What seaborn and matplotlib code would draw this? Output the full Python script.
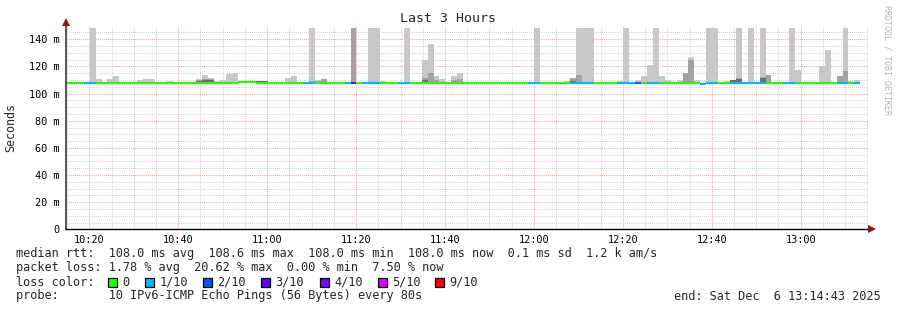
import numpy as np
import pandas as pd
import matplotlib
matplotlib.use("Agg")
import matplotlib.pyplot as plt
from matplotlib.patches import Rectangle
from matplotlib.ticker import FixedLocator, FuncFormatter
import seaborn as sns

# ---------------- data ----------------
N_STEPS = 134            # 80 s steps shown
START_MIN = 14.75        # first step start, minutes after 10:00
STEP_MIN = 80 / 60       # 80 s step

MEDIAN_BASE = 108.0
median_steps = [29, 30, 31, 107]
median_values = [108.6, 108.6, 108.6, 107.4]

loss_steps = [3, 4, 40, 41, 47, 48, 50, 51, 52, 56, 57, 78, 79, 85, 86, 87, 88,
              93, 94, 95, 96, 98, 99, 107, 108, 109, 112, 113, 114, 115, 116,
              117, 121, 122, 130, 131, 133]
loss_tenths = [1, 1, 1, 1, 1, 4, 1, 1, 1, 1, 1, 1, 1, 1, 1, 1, 1,
               1, 1, 1, 2, 1, 1, 1, 1, 1, 1, 1, 1, 1, 1,
               1, 1, 1, 1, 1, 1]

SMOKE_BASE = 107.8
smoke_steps = [4, 5, 7, 8, 12, 13, 14, 17, 22, 23, 24, 25, 26, 27, 28, 32, 33,
               37, 38, 41, 42, 43, 48, 51, 52, 53, 57, 60, 61, 62, 63, 65, 66,
               79, 84, 85, 86, 87, 88, 93, 94, 96, 97, 98, 99, 100, 101, 103,
               104, 105, 106, 108, 109, 111, 112, 113, 115, 117, 118, 122, 123,
               127, 128, 130, 131, 132, 133]
smoke_max = [148, 111, 111, 112.7, 109.7, 111, 111, 109.5, 111, 113.5, 111.8, 109.6, 110, 114.1, 115.4, 108.9, 108.9,
             111.7, 113.2, 148, 110, 111, 148, 148, 148, 109, 148, 124.4, 136.6, 112.7, 111, 113.2, 115.4,
             148, 109.5, 111.7, 148, 148, 148, 109, 148, 110, 113.2, 121.2, 148, 112.7, 110, 110,
             115.4, 127, 110, 148, 148, 109.5, 110, 148, 148, 148, 113.5, 148, 117.6,
             120, 132.2, 113.1, 148, 109.4, 109.8]
smoke_mid = [None, None, None, None, None, None, None, None, 110, 110.5, 110.5, None, None, None, None, 108.9, 108.9,
             None, None, 109.5, 109.5, 111, 148, None, None, None, None, 111.7, 115, 110, None, 110.2, 111,
             None, None, 111.7, 113.4, None, None, None, None, None, None, None, None, None, None, None,
             115.4, 124.4, None, None, None, None, 110, 111.7, None, 112.2, 113.5, None, None,
             None, None, 113.1, 116.8, None, None]
smoke_dark = [None, None, None, None, None, None, None, None, 109.5, 110, 109.8, None, None, None, None, 108.9, 108.9,
              None, None, None, None, None, None, None, None, None, None, 110, None, None, None, None, None,
              None, None, 109.5, None, None, None, None, None, None, None, None, None, None, None, None,
              None, None, None, None, None, None, 109.8, 110.5, None, 111.2, None, None, None,
              None, None, None, None, None, None]

y_ticks = [0, 20, 40, 60, 80, 100, 120, 140]
x_tick_min = [20, 40, 60, 80, 100, 120, 140, 160, 180]
x_tick_labels = ["10:20", "10:40", "11:00", "11:20", "11:40", "12:00", "12:20", "12:40", "13:00"]

loss_names = {0: "0", 1: "1/10", 2: "2/10", 3: "3/10", 4: "4/10", 5: "5/10", 9: "9/10"}
loss_colors = {"0": "#26ff00", "1/10": "#00b8ff", "2/10": "#0059ff", "3/10": "#5e00ff",
               "4/10": "#7e00ff", "5/10": "#dd00ff", "9/10": "#ff0000"}

stats_line1 = "median rtt:  108.0 ms avg  108.6 ms max  108.0 ms min  108.0 ms now  0.1 ms sd  1.2 k am/s"
stats_line2 = "packet loss: 1.78 % avg  20.62 % max  0.00 % min  7.50 % now"
probe_line = "probe:       10 IPv6-ICMP Echo Pings (56 Bytes) every 80s"
end_line = "end: Sat Dec  6 13:14:43 2025"

# ---------------- styling ----------------
sns.set_theme(style="white")
plt.rcParams["font.family"] = ["DejaVu Sans Mono", "DejaVu Sans"]

W, H = 897, 310
fig = plt.figure(figsize=(W / 100, H / 100), dpi=100)
fig.patch.set_facecolor("white")
ax_l, ax_r, ax_b, ax_t = 66, 868.3, 229.3, 25.7
ax = fig.add_axes([ax_l / W, 1 - ax_b / H, (ax_r - ax_l) / W, (ax_b - ax_t) / H])
ax.set_facecolor("white")

# ---------------- smoke ----------------
ss = np.array(smoke_steps)
xs = START_MIN + ss * STEP_MIN
for tops, col in [(smoke_max, "#c8c8c8"), (smoke_mid, "#a2a2a2"), (smoke_dark, "#6e6e6e")]:
    arr = np.array([np.nan if v is None else v for v in tops], dtype=float)
    ok = ~np.isnan(arr)
    ax.bar(xs[ok], arr[ok] - SMOKE_BASE, bottom=SMOKE_BASE, width=STEP_MIN,
           align="edge", color=col, linewidth=0, zorder=2)

# ---------------- median line coloured by loss ----------------
steps = np.arange(N_STEPS)
loss = np.zeros(N_STEPS, dtype=int)
loss[loss_steps] = loss_tenths
median = np.full(N_STEPS, MEDIAN_BASE)
median[median_steps] = median_values
t_start = START_MIN + steps * STEP_MIN
df = pd.DataFrame({
    "step": np.repeat(steps, 2),
    "t": np.column_stack([t_start, t_start + STEP_MIN]).ravel(),
    "median": np.repeat(median, 2),
    "loss": np.repeat([loss_names[v] for v in loss], 2),
})
sns.lineplot(data=df, x="t", y="median", hue="loss", units="step", estimator=None,
             palette=loss_colors, linewidth=1.5, legend=False, ax=ax,
             solid_capstyle="butt", zorder=3)

# ---------------- axes, grid ----------------
ax.set_xlim(START_MIN, START_MIN + (ax_r - ax_l) / 4.446)
ax.set_ylim(0, 150)
ax.set_xlabel("")
ax.set_ylabel("")
ax.xaxis.set_major_locator(FixedLocator(x_tick_min))
ax.xaxis.set_minor_locator(FixedLocator([m for m in range(15, 196, 5) if m % 20 != 0]))
ax.yaxis.set_major_locator(FixedLocator(y_ticks))
ax.yaxis.set_minor_locator(FixedLocator([v for v in range(5, 150, 5) if v % 20 != 0]))
ax.set_xticklabels(x_tick_labels)
ax.yaxis.set_major_formatter(FuncFormatter(lambda v, p: "0" if v == 0 else f"{int(v)} m"))
ax.set_axisbelow(True)
ax.grid(which="major", color="#f2a8a8", linewidth=0.75, linestyle=(0, (1, 1)))
ax.grid(which="minor", color="#d4d4d4", linewidth=0.75, linestyle=(0, (1, 1)))
ax.tick_params(axis="both", which="major", direction="out", length=2.2, width=0.8,
               color="#404040", labelsize=7.4, labelcolor="#000000", pad=2.4)
ax.tick_params(axis="both", which="minor", direction="out", length=1.4, width=0.7,
               color="#606060")
ax.tick_params(axis="x", which="major", pad=1.8)
for s in ["top", "right"]:
    ax.spines[s].set_visible(False)
ax.spines["left"].set_color("#555555")
ax.spines["left"].set_linewidth(1.4)
ax.spines["bottom"].set_color("#000000")
ax.spines["bottom"].set_linewidth(1.0)
ax.spines["left"].set_zorder(5)
ax.spines["bottom"].set_zorder(5)

# axis arrows
ax.plot([0], [1.018], marker="^", ms=5.5, color="#8b1a1a", transform=ax.transAxes,
        clip_on=False, zorder=6, markeredgewidth=0)
ax.plot([1.004], [0], marker=">", ms=5.5, color="#8b1a1a", transform=ax.transAxes,
        clip_on=False, zorder=6, markeredgewidth=0)

# ---------------- texts ----------------
def fx(px):
    return px / W

def fy(py):
    return 1 - py / H

LEG_FS = 8.55
fig.text(fx(448), fy(19), "Last 3 Hours", ha="center", va="center", fontsize=9.5)
fig.text(fx(11), fy(127), "Seconds", ha="center", va="center", rotation=90, fontsize=8.4)
fig.text(fx(887), fy(60), "RRDTOOL / TOBI OETIKER", ha="center", va="center",
         rotation=270, fontsize=6, color="#b4b4b4")

fig.text(fx(16), fy(254), stats_line1, ha="left", va="center", fontsize=LEG_FS)
fig.text(fx(16), fy(268), stats_line2, ha="left", va="center", fontsize=LEG_FS)
fig.text(fx(16), fy(282), "loss color:", ha="left", va="center", fontsize=LEG_FS)
box_x = [108, 145, 203, 261, 320, 378, 435]
for bx, name in zip(box_x, loss_colors.keys()):
    fig.patches.append(Rectangle((fx(bx), fy(286.5)), 8.5 / W, 8.5 / H,
                                 transform=fig.transFigure, facecolor=loss_colors[name],
                                 edgecolor="black", linewidth=0.9))
    fig.text(fx(bx + 14.5), fy(282), name, ha="left", va="center", fontsize=LEG_FS)
fig.text(fx(16), fy(296), probe_line, ha="left", va="center", fontsize=LEG_FS)
fig.text(fx(881), fy(296), end_line, ha="right", va="center", fontsize=LEG_FS)

fig.savefig("out.png", dpi=100, facecolor="white")
